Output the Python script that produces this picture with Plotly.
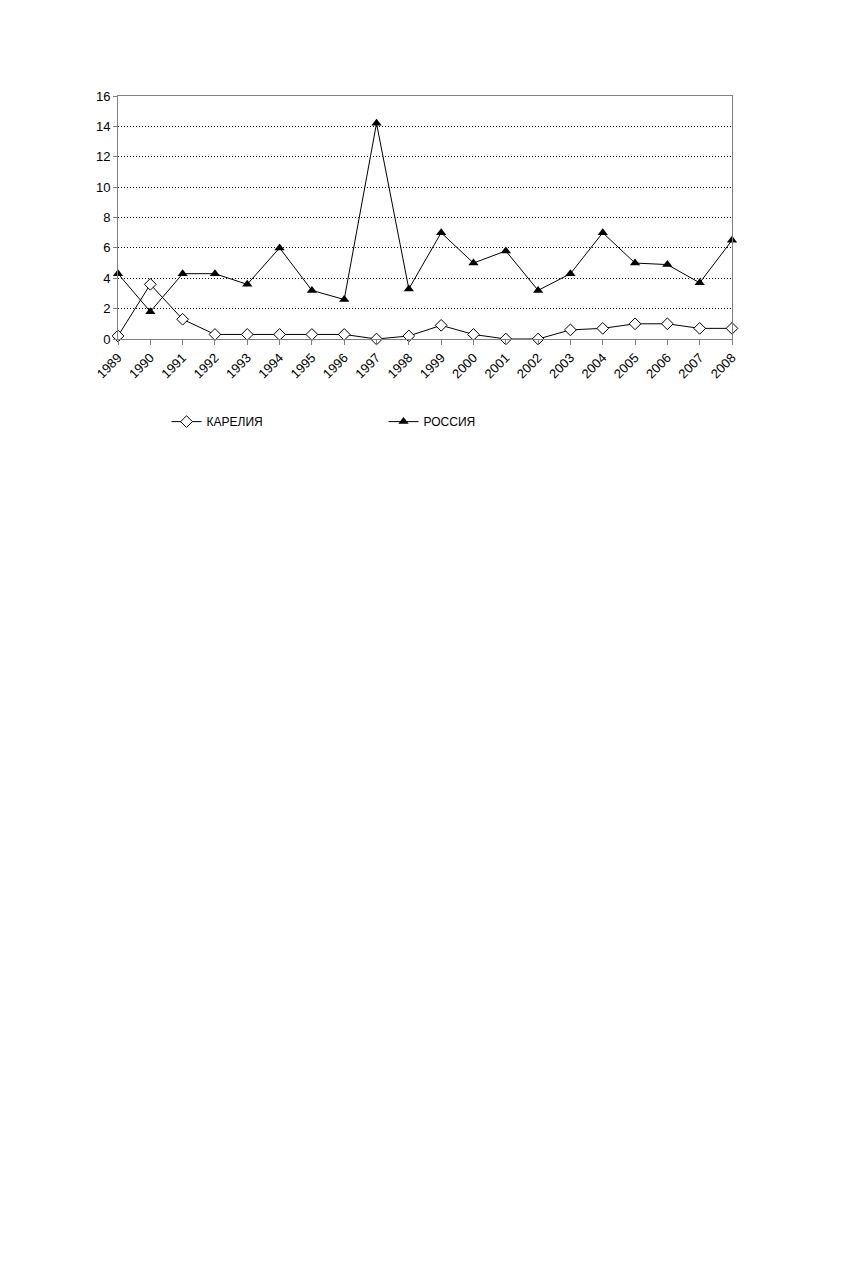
import plotly.graph_objects as go

# Data
years = [str(y) for y in range(1989, 2009)]
karelia = [0.2, 3.6, 1.3, 0.3, 0.3, 0.3, 0.3, 0.3, 0.0, 0.2,
           0.9, 0.3, 0.0, 0.0, 0.6, 0.7, 1.0, 1.0, 0.7, 0.7]
russia = [4.3, 1.8, 4.3, 4.3, 3.6, 6.0, 3.2, 2.6, 14.2, 3.3,
          7.0, 5.0, 5.8, 3.2, 4.3, 7.0, 5.0, 4.9, 3.7, 6.5]
y_ticks = list(range(0, 17, 2))

fig = go.Figure()

fig.add_trace(go.Scatter(
    x=years, y=karelia, name="КАРЕЛИЯ", mode="lines+markers",
    line=dict(color="black", width=1),
    marker=dict(symbol="diamond", size=9, color="white",
                line=dict(color="black", width=1)),
    cliponaxis=False,
))
fig.add_trace(go.Scatter(
    x=years, y=russia, name="РОССИЯ", mode="lines+markers",
    line=dict(color="black", width=1),
    marker=dict(symbol="triangle-up", size=9, color="black"),
    cliponaxis=False,
))

fig.update_layout(
    width=856, height=1268,
    margin=dict(l=110, r=132, t=88, b=937),
    paper_bgcolor="white", plot_bgcolor="white",
    font=dict(family="Liberation Sans, Arial, sans-serif", size=13, color="black"),
    showlegend=True,
    legend=dict(orientation="h", x=0.079, y=-0.34, xanchor="left", yanchor="middle",
                entrywidth=172, entrywidthmode="pixels",
                font=dict(size=12), itemwidth=30),
)

fig.update_xaxes(
    type="category", range=[0, 19], tickangle=-45,
    showgrid=False, showline=True, linecolor="#808080", linewidth=1,
    mirror=True, ticks="outside", ticklen=5, tickcolor="#808080",
    zeroline=False,
)
fig.update_yaxes(
    range=[0, 16], tickvals=y_ticks,
    showgrid=True, gridcolor="black", griddash="1px,2px", gridwidth=1,
    showline=True, linecolor="#808080", linewidth=1, mirror=True,
    ticks="outside", ticklen=4, tickcolor="#808080",
    zeroline=False,
)

fig.write_html("out.html")
